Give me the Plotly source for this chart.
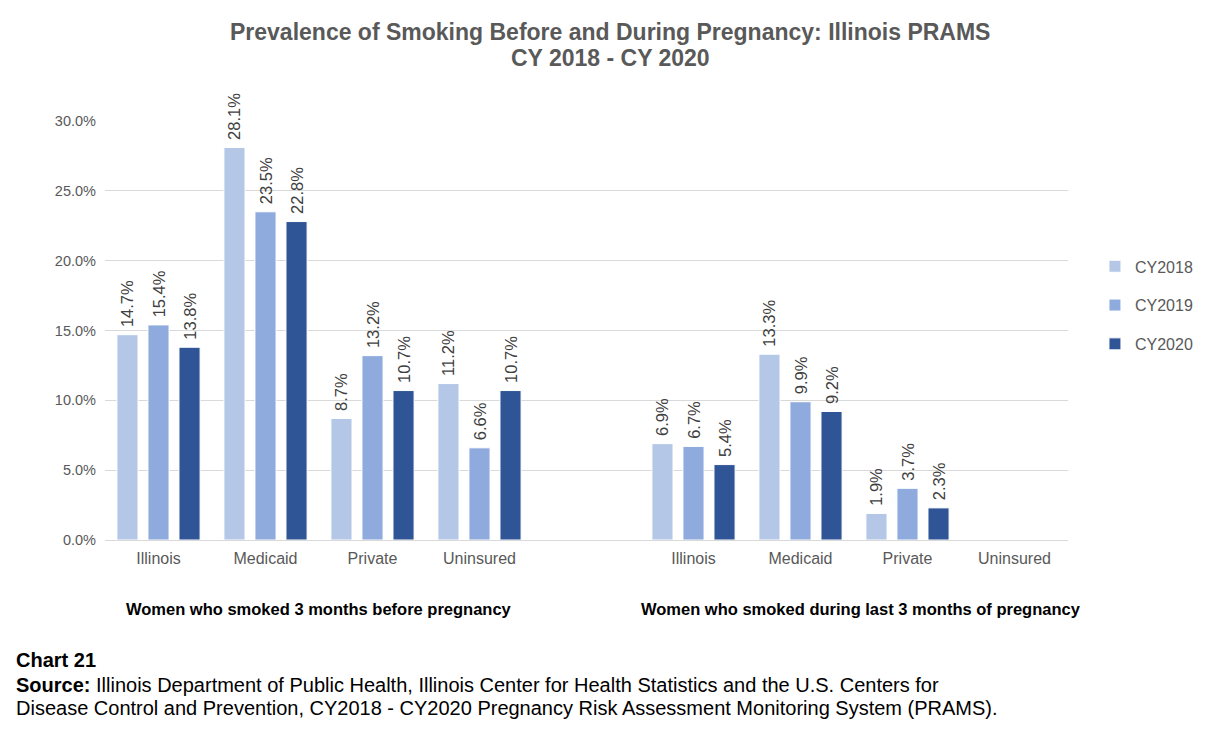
import plotly.graph_objects as go

# slot positions: 0-3 before pregnancy, 5-8 during last 3 months (slot 4 is empty spacer)
positions = [0, 1, 2, 3, 5, 6, 7, 8]
categories = ["Illinois", "Medicaid", "Private", "Uninsured",
              "Illinois", "Medicaid", "Private", "Uninsured"]

cy2018 = [0.147, 0.281, 0.087, 0.112, 0.069, 0.133, 0.019, None]
cy2019 = [0.154, 0.235, 0.132, 0.066, 0.067, 0.099, 0.037, None]
cy2020 = [0.138, 0.228, 0.107, 0.107, 0.054, 0.092, 0.023, None]

series = [
    ("CY2018", cy2018, "#B4C7E7"),
    ("CY2019", cy2019, "#8FAADC"),
    ("CY2020", cy2020, "#2F5597"),
]

title_lines = [
    "Prevalence of Smoking Before and During Pregnancy: Illinois PRAMS",
    "CY 2018 - CY 2020",
]

group_titles = [
    "Women who smoked 3 months before pregnancy",
    "Women who smoked during last 3 months of pregnancy",
]

source_lines = [
    "<b>Source:</b> Illinois Department of Public Health, Illinois Center for Health Statistics and the U.S. Centers for",
    "Disease Control and Prevention, CY2018 - CY2020 Pregnancy Risk Assessment Monitoring System (PRAMS).",
]

FONT = "Liberation Sans, Arial, sans-serif"
PLOT_H = 419  # plot area height in px, used to place text outside the plot
PLOT_W = 963

fig = go.Figure()

for name, values, color in series:
    fig.add_trace(
        go.Bar(
            x=positions,
            y=values,
            name=name,
            legendgroup=name,
            marker=dict(color=color, line=dict(color="white", width=1)),
            text=["\u00a0" + f"{v:.1%}" if v is not None else "" for v in values],
            textposition="outside",
            textangle=-90,
            constraintext="none",
            cliponaxis=False,
            textfont=dict(size=16.5, color="#404040", family=FONT),
        )
    )

fig.update_layout(
    width=1206,
    height=739,
    margin=dict(l=97, r=146, t=113, b=207),
    paper_bgcolor="white",
    plot_bgcolor="white",
    barmode="group",
    bargap=0.13,
    bargroupgap=0.32,
    font=dict(family=FONT, color="#595959"),
    legend=dict(
        x=1.028,
        xanchor="left",
        y=0.56,
        yanchor="middle",
        font=dict(size=16, color="#595959"),
        tracegroupgap=15,
        bgcolor="rgba(0,0,0,0)",
    ),
)

fig.update_xaxes(
    tickmode="array",
    tickvals=positions,
    ticktext=categories,
    range=[-0.5, 8.5],
    showgrid=False,
    showline=True,
    linecolor="#D9D9D9",
    ticks="",
    ticklabelstandoff=4,
    tickfont=dict(size=16, color="#595959"),
)

fig.update_yaxes(
    range=[0, 0.30],
    dtick=0.05,
    tickformat=".1%",
    showgrid=True,
    gridcolor="#D9D9D9",
    zeroline=False,
    tickfont=dict(size=14.5, color="#595959"),
    ticksuffix="  ",
)

for i, line in enumerate(title_lines):
    fig.add_annotation(
        x=0.5 + 23.5 / PLOT_W, y=1 + (89 - 26 * i) / PLOT_H, xref="paper", yref="paper",
        xanchor="center", yanchor="middle",
        text=f"<b>{line}</b>", showarrow=False,
        font=dict(size=23, color="#595959", family=FONT),
    )

for xc, label in zip([1.5, 6.57], group_titles):
    fig.add_annotation(
        x=xc, y=-69 / PLOT_H, xref="x", yref="paper", yanchor="middle",
        text=f"<b>{label}</b>", showarrow=False,
        font=dict(size=16.5, color="black", family=FONT),
    )

fig.add_annotation(
    x=-91 / PLOT_W, y=-120 / PLOT_H, xref="paper", yref="paper",
    xanchor="left", yanchor="middle",
    text="<b>Chart 21</b>", showarrow=False, align="left",
    font=dict(size=20, color="black", family=FONT),
)
for i, line in enumerate(source_lines):
    fig.add_annotation(
        x=-91 / PLOT_W, y=-(145 + 23 * i) / PLOT_H, xref="paper", yref="paper",
        xanchor="left", yanchor="middle",
        text=line, showarrow=False, align="left",
        font=dict(size=20, color="black", family=FONT),
    )

fig.write_html("out.html")
